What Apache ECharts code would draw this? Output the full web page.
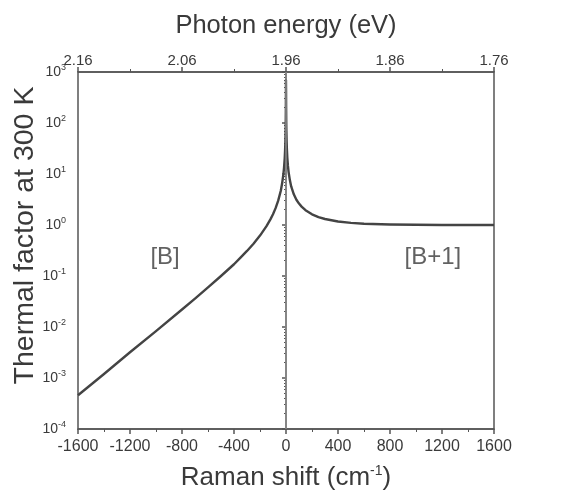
<!DOCTYPE html>
<html>
<head>
<meta charset="utf-8">
<script src="https://cdn.jsdelivr.net/npm/echarts@6/dist/echarts.min.js"></script>
<style>
  html, body { margin: 0; padding: 0; background: #fff; }
  #chart { width: 564px; height: 498px; }
</style>
</head>
<body>
<div id="chart"></div>
<script>
// Raman shift (cm-1) and the thermal factor
const shift = [-1600, -1400, -1200, -1000, -800, -700, -600, -500, -400, -350, -300, -250, -200, -150, -120, -100, -80, -60,
  -40, -30, -20, -15, -10, -7, -5, -3, -2, -1, -0.5, -0.3,
  0.3, 0.5, 1, 2, 3, 5, 7, 10, 15, 20, 30, 40, 60, 80, 100, 120, 150, 200, 250, 300, 400, 500, 600, 800, 1000, 1200, 1400, 1600];
const factor = [4.6e-4, 1.2e-3, 3.2e-3, 8.3e-3, 0.022, 0.036, 0.06, 0.1, 0.17, 0.23, 0.31, 0.43, 0.62, 0.95, 1.29, 1.63, 2.14, 3.0,
  4.7, 6.5, 9.9, 13.4, 20, 29, 41, 69, 104, 208, 416, 695,
  696, 417, 209, 105, 70, 42, 30.3, 21, 14.4, 10.9, 7.5, 5.7, 4.0, 3.12, 2.63, 2.29, 1.95, 1.62, 1.43, 1.31, 1.17, 1.10, 1.06, 1.022, 1.008, 1.003, 1.001, 1.0005];

const topLabels = ["2.16", "2.06", "1.96", "1.86", "1.76"];
const regionNames = ["[B]", "[B+1]"];
const regionPos = [[-930, 0.23], [1130, 0.23]];

const font = "Liberation Sans, Arial, sans-serif";
const textColor = "#3a3a3a";
const lineColor = "#555";

const chart = echarts.init(document.getElementById("chart"));

const option = {
  animation: false,
  grid: {
    left: 78,
    right: 70,
    top: 72,
    bottom: 69,
    outerBoundsMode: "none",
    show: true,
    borderColor: lineColor,
    borderWidth: 1.5,
  },
  xAxis: [
    {
      type: "value",
      min: -1600,
      max: 1600,
      interval: 400,
      name: "{a|Raman shift (cm}{s|-1}{a|)}",
      nameLocation: "middle",
      nameGap: 35,
      nameTextStyle: {
        rich: {
          a: { fontFamily: font, fontSize: 26, color: textColor },
          s: { fontFamily: font, fontSize: 14, color: textColor, padding: [0, 0, 14, 0] },
        },
      },
      axisLine: { lineStyle: { color: lineColor, width: 1.5 } },
      axisTick: { length: 5, lineStyle: { color: lineColor, width: 1.5 } },
      minorTick: { show: true, splitNumber: 2, length: 3, lineStyle: { color: lineColor } },
      axisLabel: { fontFamily: font, fontSize: 16, color: textColor, margin: 10, formatter: (v) => String(v) },
      splitLine: { show: false },
    },
    {
      type: "value",
      position: "top",
      min: -1600,
      max: 1600,
      interval: 800,
      name: "Photon energy (eV)",
      nameLocation: "middle",
      nameGap: 33,
      nameTextStyle: { fontFamily: font, fontSize: 25.5, color: textColor },
      axisLine: { lineStyle: { color: lineColor, width: 1.5 } },
      axisTick: { length: 5, lineStyle: { color: lineColor, width: 1.5 } },
      minorTick: { show: true, splitNumber: 2, length: 3, lineStyle: { color: lineColor } },
      axisLabel: {
        fontFamily: font,
        fontSize: 15,
        color: textColor,
        margin: 4,
        formatter: (v) => topLabels[Math.round((v + 1600) / 800)],
      },
      splitLine: { show: false },
    },
  ],
  yAxis: {
    type: "log",
    logBase: 10,
    min: 1e-4,
    max: 1e3,
    name: "Thermal factor at 300 K",
    nameLocation: "middle",
    nameGap: 38,
    nameMoveOverlap: false,
    nameTextStyle: { fontFamily: font, fontSize: 28.5, color: textColor, padding: [0, 0, 0, 30] },
    axisLine: { show: true, lineStyle: { color: lineColor, width: 1.5 } },
    axisTick: { length: 4, lineStyle: { color: lineColor, width: 1.5 } },
    minorTick: { show: true, splitNumber: 9, length: 2, lineStyle: { color: lineColor } },
    axisLabel: {
      margin: 12,
      formatter: (v) => "{b|10}{s|" + Math.round(Math.log10(v)) + "}",
      rich: {
        b: { fontFamily: font, fontSize: 14, color: textColor },
        s: { fontFamily: font, fontSize: 9, color: textColor, padding: [0, 0, 8, 0] },
      },
    },
    splitLine: { show: false },
  },
  series: [
    {
      // zero-shift line, kept under the curve
      type: "line",
      data: [],
      z: 1,
      markLine: {
        silent: true,
        symbol: "none",
        label: { show: false },
        lineStyle: { color: "#8a8a8a", width: 1.5, type: "solid" },
        data: [{ xAxis: 0 }],
      },
    },
    {
      type: "line",
      data: shift.map((x, i) => [x, factor[i]]),
      z: 3,
      showSymbol: false,
      lineStyle: { color: "#444", width: 2.4, join: "round" },
    },
    {
      type: "scatter",
      symbolSize: 0,
      data: regionPos.map((p, i) => ({ value: p, name: regionNames[i] })),
      label: {
        show: true,
        position: "inside",
        formatter: (p) => p.name,
        fontFamily: font,
        fontSize: 24,
        color: textColor,
      },
    },
  ],
};

chart.setOption(option);
</script>
</body>
</html>
